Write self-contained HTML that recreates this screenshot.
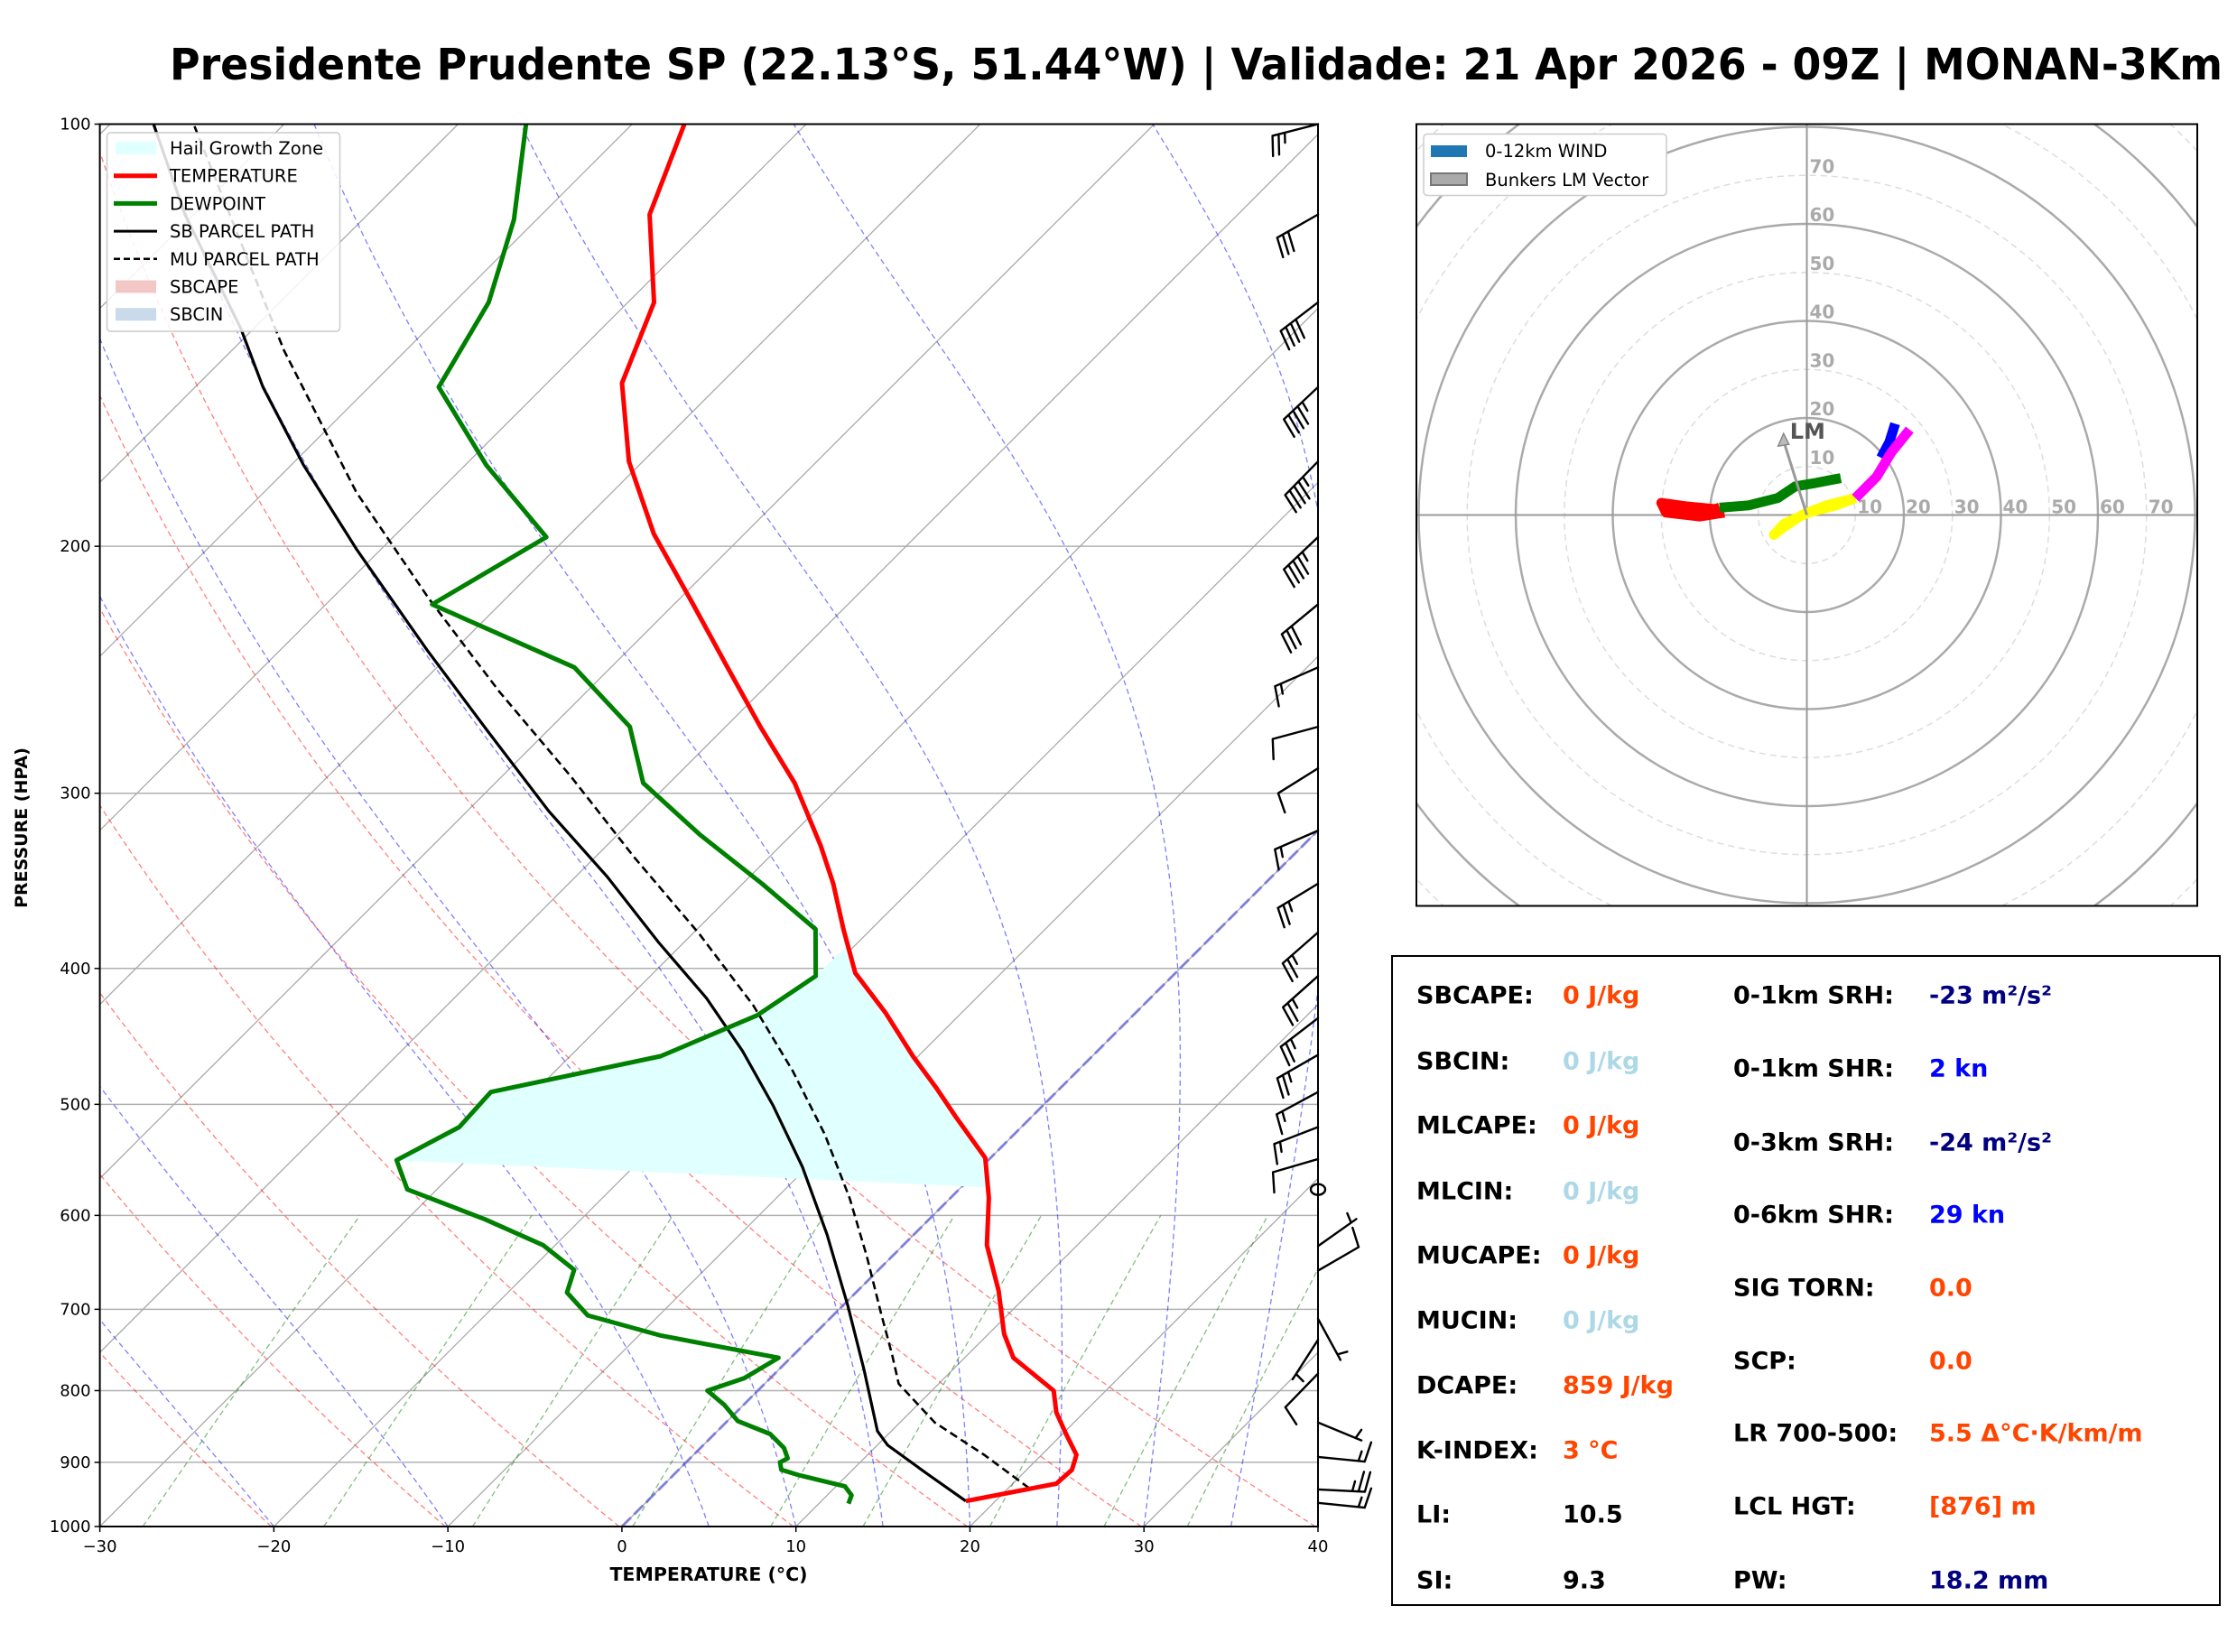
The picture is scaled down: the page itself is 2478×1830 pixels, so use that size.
<!DOCTYPE html>
<html><head><meta charset="utf-8"><style>
html,body{margin:0;padding:0;background:#fff;}
svg{display:block;font-family:"DejaVu Sans","Liberation Sans",sans-serif;}
</style></head><body>
<svg id="fig" xmlns="http://www.w3.org/2000/svg" width="2478" height="1830" viewBox="0 0 2478 1830">
<rect width="2478" height="1830" fill="#fff"/>
<text x="188" y="88" font-size="48" font-weight="bold" textLength="2274" lengthAdjust="spacingAndGlyphs">Presidente Prudente SP (22.13°S, 51.44°W) | Validade: 21 Apr 2026 - 09Z | MONAN-3Km</text>
<defs>
<clipPath id="skclip"><rect x="110.6" y="137.5" width="1349.4" height="1553.5"/></clipPath>
<clipPath id="hclip"><rect x="1569" y="137.5" width="865" height="866"/></clipPath>
</defs>
<g id="skewt"></g>
<g id="hodo"></g>
<g id="stats">
<rect x="1542" y="1059" width="917" height="719" fill="none" stroke="#000" stroke-width="2"/>
<g font-size="27" font-weight="bold" dominant-baseline="central">
<text x="1569" y="1103">SBCAPE:</text><text x="1731" y="1103" fill="#ff4500">0 J/kg</text>
<text x="1569" y="1176">SBCIN:</text><text x="1731" y="1176" fill="#add8e6">0 J/kg</text>
<text x="1569" y="1247">MLCAPE:</text><text x="1731" y="1247" fill="#ff4500">0 J/kg</text>
<text x="1569" y="1320">MLCIN:</text><text x="1731" y="1320" fill="#add8e6">0 J/kg</text>
<text x="1569" y="1391">MUCAPE:</text><text x="1731" y="1391" fill="#ff4500">0 J/kg</text>
<text x="1569" y="1463">MUCIN:</text><text x="1731" y="1463" fill="#add8e6">0 J/kg</text>
<text x="1569" y="1535">DCAPE:</text><text x="1731" y="1535" fill="#ff4500">859 J/kg</text>
<text x="1569" y="1607">K-INDEX:</text><text x="1731" y="1607" fill="#ff4500">3 °C</text>
<text x="1569" y="1678">LI:</text><text x="1731" y="1678">10.5</text>
<text x="1569" y="1751">SI:</text><text x="1731" y="1751">9.3</text>
<text x="1920" y="1103">0-1km SRH:</text><text x="2137" y="1103" fill="#000080">-23 m²/s²</text>
<text x="1920" y="1184">0-1km SHR:</text><text x="2137" y="1184" fill="#0000ff">2 kn</text>
<text x="1920" y="1266">0-3km SRH:</text><text x="2137" y="1266" fill="#000080">-24 m²/s²</text>
<text x="1920" y="1346">0-6km SHR:</text><text x="2137" y="1346" fill="#0000ff">29 kn</text>
<text x="1920" y="1427">SIG TORN:</text><text x="2137" y="1427" fill="#ff4500">0.0</text>
<text x="1920" y="1508">SCP:</text><text x="2137" y="1508" fill="#ff4500">0.0</text>
<text x="1920" y="1588">LR 700-500:</text><text x="2137" y="1588" fill="#ff4500">5.5 Δ°C·K/km/m</text>
<text x="1920" y="1669">LCL HGT:</text><text x="2137" y="1669" fill="#ff4500">[876] m</text>
<text x="1920" y="1751">PW:</text><text x="2137" y="1751" fill="#000080">18.2 mm</text>
</g></g>
</svg>
<script>
// ---- Sounding data ----
const tempP = [959,932,911,889,859,829,800,758,729,679,630,583,546,510,487,462,430,403,375,348,327,295,269,244,220,196,174,153,134,116,100];
const tempT = [18.3,22.5,22.6,22.0,20.2,18.4,17.0,12.8,10.9,8.1,4.8,2.2,-0.3,-4.4,-7.1,-10.3,-14.4,-18.4,-21.6,-24.8,-27.7,-32.8,-38.0,-43.3,-48.9,-55.2,-60.8,-65.7,-68.5,-73.8,-77.0];
const dewP = [963,950,936,919,911,900,894,879,859,841,819,800,784,758,731,707,681,656,630,604,575,548,519,490,462,432,405,375,348,321,295,269,244,220,197,175,154,134,117,100];
const dewT = [11.7,11.4,10.5,7.2,5.9,5.4,5.6,4.8,3.2,0.6,-1.1,-2.9,-1.5,-0.7,-8.7,-14.1,-16.6,-17.5,-20.7,-25.5,-31.7,-34.0,-32.3,-32.5,-24.8,-21.6,-20.5,-23.2,-28.9,-35.3,-41.5,-45.5,-52.1,-63.9,-61.2,-68.8,-76.0,-78.0,-81.3,-86.1];
const sbP = [959,917,875,855,773,696,619,554,501,458,420,383,344,309,271,237,201,175,154,140,116,100];
const sbT = [18.3,14.5,10.6,9.2,4.9,0.3,-5.0,-10.3,-15.5,-20.4,-25.5,-31.5,-38.2,-45.3,-53.4,-61.6,-71.4,-79.3,-86.1,-90.7,-100.5,-107.5];
const muP = [939,889,843,791,755,704,641,583,525,473,425,378,333,292,254,218,183,145,100];
const muT = [21.2,16.7,12.0,7.7,5.7,2.6,-1.5,-5.8,-10.9,-16.4,-22.4,-29.6,-37.8,-46.0,-55,-64.4,-74.7,-87,-105.2];
// wind barbs (pressure hPa, u, v knots)
const barbP = [100,116,134,154,174,197,220,244,269,288,319,348,377,405,434,461,490,519,547,575,631,657,711,736,778,843,892,941,962];
const barbU = [24.2,26.1,31.7,32.7,31.5,32.7,23.1,13.7,9.7,8.5,13.8,21.4,18.8,18.6,19.8,21.7,13.2,14.0,9.6,0,-4.1,-8.6,-2.4,2.7,7.0,-4.6,-14.9,-25.0,-14.9];
const barbV = [6.2,14.8,24.3,30.9,32.1,30.9,19.1,6.0,2.6,5.3,6.0,13.0,16.5,16.6,15.2,12.4,7.1,5.4,2.8,0,-2.9,-5.0,4.4,4.2,7.2,1.9,1.5,1.2,1.5];
// hodograph segments (knots)
const hodoRedU = [-17,-22,-29,-30,-25,-19,-18]; const hodoRedV = [0.5,-0.3,0.5,2.5,1.8,1.2,1.5];
const hodoGreenU = [-18,-12,-6,-2.4,1.2,7]; const hodoGreenV = [1.5,2,3.5,5.9,6.5,7.6];
const hodoYellowU = [10,4,-1,-5.3,-6.8,-4.7,0.6,6,10]; const hodoYellowV = [3.5,2,0,-2.9,-4.1,-1.8,0.6,2,3.5];
const hodoMagentaU = [10,14.4,17.4,21.2]; const hodoMagentaV = [3.5,7.9,12.9,17.6];
const hodoBlueU = [15.3,17,18.2]; const hodoBlueV = [11.8,15,18.8];
const lmU = [-4.8]; const lmV = [16.8];
const pTicks = [100,200,300,400,500,600,700,800,900,1000];
const tTicks = [-30,-20,-10,0,10,20,30,40];
const mixRatios = [0.0004,0.001,0.002,0.004,0.007,0.01,0.016,0.024,0.032];
const dryThetas = [193,203,213,223,233,243,253,263,273,283,293,303,313];
const moistT0 = [-20,-10,5,10,15,20,25,30,35];
const hodoRings = [10,20,30,40,50,60,70,80,90,100,110,120];
const hodoLabels = [10,20,30,40,50,60,70];

const NS='http://www.w3.org/2000/svg';
function mk(tag, attrs, parent){const e=document.createElementNS(NS,tag);for(const k in attrs)e.setAttribute(k,attrs[k]);parent.appendChild(e);return e;}
const L=110.6,R=1460,TOP=137.5,B=1691,W=R-L,H=B-TOP,PXC=W/70;
function yP(p){return B-Math.log10(1000/p)*H;}
function xT(t,p){return L+(t+30)*PXC+(B-yP(p));}
function pathTP(ps,ts){return ps.map((p,i)=>(i?'L':'M')+xT(ts[i],p).toFixed(1)+' '+yP(p).toFixed(1)).join(' ');}
function interp(ps,vs,p){for(let i=0;i<ps.length-1;i++){const a=ps[i],b=ps[i+1];if((p<=a&&p>=b)||(p>=a&&p<=b)){const f=(Math.log(p)-Math.log(a))/(Math.log(b)-Math.log(a));return vs[i]+f*(vs[i+1]-vs[i]);}}return vs[vs.length-1];}

const sk=document.getElementById('skewt');
const cg=mk('g',{'clip-path':'url(#skclip)'},sk);


pTicks.forEach(p=>{const l=mk('line',{x1:L,x2:R,y1:yP(p),y2:yP(p),stroke:'#b0b0b0','stroke-width':1.5},cg);

});
for(let t=-150;t<=40;t+=10){const l=mk('line',{x1:xT(t,1000),y1:B,x2:xT(t,100),y2:TOP,stroke:'#aaa','stroke-width':1.3},cg);

}
dryThetas.forEach(th=>{const ps=[],ts=[];for(let p=1000;p>=100;p-=10){ps.push(p);ts.push(th*Math.pow(p/1000,0.286)-273.15);}
const e=mk('path',{d:pathTP(ps,ts),fill:'none',stroke:'#ff0000','stroke-opacity':0.5,'stroke-width':1.3,'stroke-dasharray':'6,4'},cg);

});
moistT0.forEach(t0=>{let T=t0+273.15;const ps=[],ts=[];for(let p=1000;p>=100;p-=5){ps.push(p);ts.push(T-273.15);
const es=6.112*Math.exp(17.67*(T-273.15)/(T-29.65));const rs=0.622*es/(p-es);
const num=287*T+2.501e6*rs;const den=1004+2.501e6*2.501e6*rs*0.622/(287*T*T);T-=num/den/p*5;}
const e=mk('path',{d:pathTP(ps,ts),fill:'none',stroke:'#0000ff','stroke-opacity':0.5,'stroke-width':1.3,'stroke-dasharray':'6,4'},cg);

});
mixRatios.forEach(w=>{const ps=[],ts=[];for(let p=1000;p>=600;p-=20){const e=p*w/(0.622+w);const ln=Math.log(e/6.112);ps.push(p);ts.push(243.5*ln/(17.67-ln));}
const e=mk('path',{d:pathTP(ps,ts),fill:'none',stroke:'#008000','stroke-opacity':0.5,'stroke-width':1.3,'stroke-dasharray':'6,4'},cg);

});
{const e=mk('line',{x1:xT(0,1000),y1:B,x2:xT(0,100),y2:TOP,stroke:'#5050e0','stroke-opacity':0.6,'stroke-width':3,'stroke-dasharray':'14,5'},cg);

}
{const pts=[];
for(let i=0;i<dewP.length;i++){if(dewP[i]<=548&&dewP[i]>=405)pts.push([xT(dewT[i],dewP[i]),yP(dewP[i])]);}
pts.push([xT(interp(tempP,tempT,385),385),yP(385)]);
const tp=[];for(let i=0;i<tempP.length;i++){if(tempP[i]<573&&tempP[i]>385)tp.push(i);}
tp.sort((a,b)=>tempP[a]-tempP[b]).forEach(i=>pts.push([xT(tempT[i],tempP[i]),yP(tempP[i])]));
pts.push([xT(interp(tempP,tempT,573),573),yP(573)]);
const e=mk('polygon',{points:pts.map(q=>q[0].toFixed(1)+','+q[1].toFixed(1)).join(' '),fill:'#e0ffff',stroke:'none'},cg);

}
{let e=mk('path',{d:pathTP(muP,muT),fill:'none',stroke:'#000','stroke-width':2.6,'stroke-dasharray':'9,5'},cg);


e=mk('path',{d:pathTP(sbP,sbT),fill:'none',stroke:'#000','stroke-width':3.2},cg);


e=mk('path',{d:pathTP(dewP,dewT),fill:'none',stroke:'#008000','stroke-width':5,'stroke-linejoin':'round'},cg);


e=mk('path',{d:pathTP(tempP,tempT),fill:'none',stroke:'#ff0000','stroke-width':5,'stroke-linejoin':'round'},cg);

}
const bg=mk('g',{stroke:'#000','stroke-width':2.4,fill:'none','stroke-linecap':'round'},sk);


barbP.forEach((p,i)=>{const u=barbU[i],v=barbV[i];const bx=R,by=yP(p);const spd=Math.hypot(u,v);
if(spd<2.5){const c=mk('ellipse',{cx:bx,cy:by,rx:8,ry:6},bg);

return;}
const sx=-u/spd,sy=v/spd;const Ls=52;const tx=bx+sx*Ls,ty=by+sy*Ls;
let d='M'+bx+' '+by+' L'+tx.toFixed(1)+' '+ty.toFixed(1);
const px=sy,py=-sx;let n=Math.round(spd/5);let full=Math.floor(n/2),half=n%2;let off=0;
for(let k=0;k<full;k++){const ax=tx-sx*off,ay=ty-sy*off;d+=' M'+ax.toFixed(1)+' '+ay.toFixed(1)+' l'+(px*22+sx*5).toFixed(1)+' '+(py*22+sy*5).toFixed(1);off+=7;}
if(half){if(full===0)off=7;const ax=tx-sx*off,ay=ty-sy*off;d+=' M'+ax.toFixed(1)+' '+ay.toFixed(1)+' l'+(px*11+sx*2.5).toFixed(1)+' '+(py*11+sy*2.5).toFixed(1);}
const e=mk('path',{d:d},bg);

});
{const f=mk('rect',{x:L,y:TOP,width:W,height:H,fill:'none',stroke:'#000','stroke-width':2},sk);

}
const tg=mk('g',{'font-size':18},sk);


pTicks.forEach(p=>{mk('line',{x1:L-6,x2:L,y1:yP(p),y2:yP(p),stroke:'#000','stroke-width':1.5},tg);
const t=mk('text',{x:L-10,y:yP(p)+6,'text-anchor':'end'},tg);t.textContent=p;

});
tTicks.forEach(tt=>{const x=L+(tt+30)*PXC;mk('line',{x1:x,x2:x,y1:B,y2:B+6,stroke:'#000','stroke-width':1.5},tg);
const t=mk('text',{x:x,y:B+28,'text-anchor':'middle'},tg);t.textContent=(tt<0?'\u2212':'')+Math.abs(tt);

});
{let t=mk('text',{x:785,y:1751,'text-anchor':'middle','font-size':20.5,'font-weight':'bold'},sk);t.textContent='TEMPERATURE (°C)';


t=mk('text',{x:30,y:917,'text-anchor':'middle','font-size':19,'font-weight':'bold',transform:'rotate(-90 30 917)'},sk);t.textContent='PRESSURE (HPA)';

}
{const lg=mk('g',{},sk);


mk('rect',{x:118.5,y:147,width:258,height:220,rx:4,fill:'#fff','fill-opacity':0.85,stroke:'#ccc','stroke-width':1.5},lg);
const items=[['Hail Growth Zone','rect','#e0ffff'],['TEMPERATURE','line','#ff0000',5,''],['DEWPOINT','line','#008000',5,''],['SB PARCEL PATH','line','#000',3,''],['MU PARCEL PATH','line','#000',2.5,'7,4'],['SBCAPE','rect','#f4c7c7'],['SBCIN','rect','#c9dbea']];
items.forEach((it,i)=>{const y=164+i*30.7;
if(it[1]==='rect')mk('rect',{x:128,y:y-7,width:45,height:14,fill:it[2]},lg);
else{const a={x1:126,x2:174,y1:y,y2:y,stroke:it[2],'stroke-width':it[3]};if(it[4])a['stroke-dasharray']=it[4];mk('line',a,lg);}
const t=mk('text',{x:188,y:y+7,'font-size':19.5},lg);t.textContent=it[0];

});}

// ---- Hodograph ----
const hg=document.getElementById('hodo');
const HCX=2001.5,HCY=570.5,HS=5.375;
const hx=u=>HCX+u*HS, hy=v=>HCY-v*HS;
const hc=mk('g',{'clip-path':'url(#hclip)'},hg);


hodoRings.forEach(r=>{const solid=r%20===0;const c=mk('circle',{cx:HCX,cy:HCY,r:r*HS,fill:'none',stroke:solid?'#aaa':'#ddd','stroke-width':solid?2.5:1.5,'stroke-dasharray':solid?'':'7,5'},hc);

});
mk('line',{x1:1569,x2:2434,y1:HCY,y2:HCY,stroke:'#999','stroke-width':2},hc);
mk('line',{x1:HCX,x2:HCX,y1:137.5,y2:1003.5,stroke:'#999','stroke-width':2},hc);
hodoLabels.forEach(r=>{let t=mk('text',{x:hx(r)+2,y:HCY-2,'font-size':20,'font-weight':'bold',fill:'#aaa'},hc);t.textContent=r;


t=mk('text',{x:HCX+3,y:hy(r)-3,'font-size':20,'font-weight':'bold',fill:'#aaa'},hc);t.textContent=r;

});
function hpath(us,vs,col,name){const e=mk('path',{d:us.map((u,i)=>(i?'L':'M')+hx(u).toFixed(1)+' '+hy(vs[i]).toFixed(1)).join(' '),fill:'none',stroke:col,'stroke-width':11,'stroke-linejoin':'round','stroke-linecap':'butt'},hc);

}
hpath(hodoRedU,hodoRedV,'#ff0000','hodo-segment-red');
hpath(hodoGreenU,hodoGreenV,'#008000','hodo-segment-green');
hpath(hodoYellowU,hodoYellowV,'#ffff00','hodo-segment-yellow');
hpath(hodoBlueU,hodoBlueV,'#0000ff','hodo-segment-blue');
hpath(hodoMagentaU,hodoMagentaV,'#ff00ff','hodo-segment-magenta');
{const ex=hx(lmU[0]),ey=hy(lmV[0]);
const a=mk('line',{x1:HCX,y1:HCY,x2:ex,y2:ey+8,stroke:'#999','stroke-width':3},hc);


mk('polygon',{points:`${ex},${ey} ${ex-6},${ey+14} ${ex+6},${ey+12}`,fill:'#bbb',stroke:'#888','stroke-width':1.5},hc);
const t=mk('text',{x:ex+7,y:ey+6,'font-size':24,'font-weight':'bold',fill:'#555'},hc);t.textContent='LM';

}
{const f=mk('rect',{x:1569,y:137.5,width:865,height:866,fill:'none',stroke:'#000','stroke-width':2},hg);


const lg=mk('g',{},hg);


mk('rect',{x:1577,y:148.5,width:269,height:68,rx:4,fill:'#fff',stroke:'#ccc','stroke-width':1.5},lg);
mk('rect',{x:1585,y:161,width:40,height:13,fill:'#1f77b4'},lg);
mk('rect',{x:1585,y:192,width:40,height:13,fill:'#aaa',stroke:'#777','stroke-width':2},lg);
let t=mk('text',{x:1645,y:174,'font-size':19.5},lg);t.textContent='0-12km WIND';


t=mk('text',{x:1645,y:206,'font-size':19.5},lg);t.textContent='Bunkers LM Vector';

}
</script>
</body></html>
